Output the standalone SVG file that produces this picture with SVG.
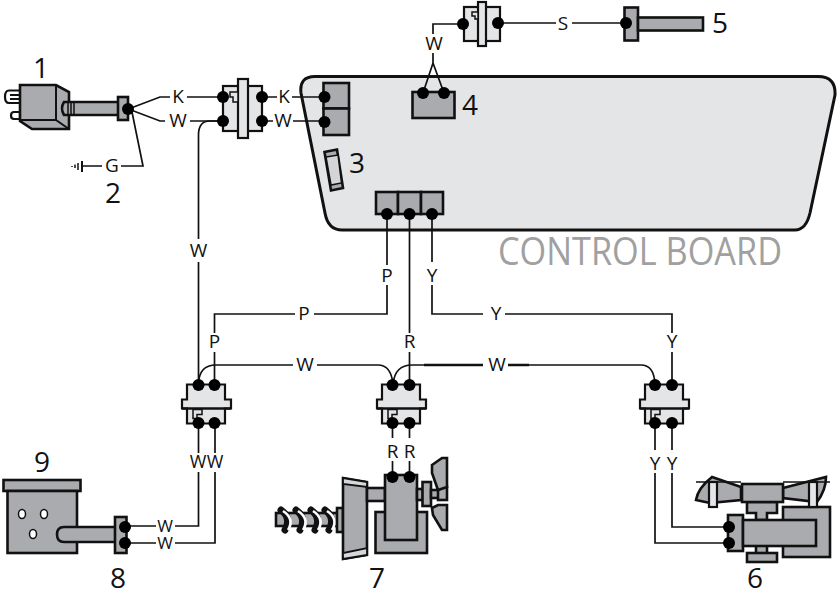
<svg xmlns="http://www.w3.org/2000/svg" width="839" height="591" viewBox="0 0 839 591">
<style>
text{font-family:"Open Sans","Noto Sans",sans-serif;fill:#111}
.n{font-size:28px;text-anchor:middle}
.l{font-size:19px;text-anchor:middle}
.w{fill:none;stroke:#111;stroke-width:1.7}
.g{fill:#a9abae;stroke:#111;stroke-width:2.6;stroke-linejoin:miter}
.p{fill:#e4e5e7;stroke:#111;stroke-width:2.2}
.k{fill:#e4e5e7;stroke:#111;stroke-width:1.5}
.d{fill:#000}
.t{fill:none;stroke:#111;stroke-width:7;stroke-linecap:round}
.t2{fill:none;stroke:#fff;stroke-width:2.6}
</style>
<defs>
<g id="relay">
<path class="p" d="M-19,-19H19V-4H25V5H19V20H-19V5H-24V-4H-19Z"/>
<path d="M-24,5H25" stroke="#111" stroke-width="2.4"/>
<path class="k" d="M-13,6h9v5h-5v4h-4z"/>
</g>
</defs>

<g id="board">
<path d="M315,76.500H818Q836,76.500 835,95L810,213Q806,230 795,230H342Q328,230 325,213L301,93Q299,76.500 315,76.500Z" fill="#e4e5e7" stroke="#111" stroke-width="3"/>
<text x="498" y="265" font-size="39" textLength="284" lengthAdjust="spacingAndGlyphs" style="fill:#a0a0a0">CONTROL BOARD</text>
</g>

<g id="connectors">
<path class="w" d="M131,108L160,97H170M187,97H225"/>
<path class="w" d="M131,110L160,121H165M190,121H225"/>
<path class="w" d="M132,112L143,166H121M102,166H82"/>
<path class="w" d="M260,97H277M292,97H326"/>
<path class="w" d="M260,121H273M293,121H326"/>
<path class="w" d="M223,121H210Q198.500,121 198.500,135V239M198.500,262V385"/>
<path class="w" d="M463,24H433V34M433,53V63L423,93M433,63L444,93"/>
<path class="w" d="M498,23H556M572,23H626"/>
<path class="w" d="M387,212V265M387,285V314H314M295,314H214.500V333M214.500,352V385"/>
<path class="w" d="M409.500,212V333M409.500,352V385"/>
<path class="w" d="M432,212V262M432,285V314H483M505,314H672V333M672,352V385"/>
<path class="w" d="M198.500,384Q199,365 216,365H293M317,365H378Q391,365 393,384"/>
<path class="w" d="M393,384Q395,365 412,365H424"/>
<path d="M424,365H483M508,365H529" stroke="#111" stroke-width="2.500" fill="none"/>
<path class="w" d="M529,365H641Q654,365 655,384"/>
<path class="w" d="M198.500,423V453M198.500,472V526H175M156,526H125"/>
<path class="w" d="M215,423V453M215,472V543H175M156,543H125"/>
<path class="w" d="M392.500,423V438M392.500,461V477M409.500,423V438M409.500,461V477"/>
<path class="w" d="M655,423V450M655,473V543H729M672,423V450M672,473V527H729"/>
</g>

<g id="node-1">
<path d="M20,90.500H9Q5,90.500 5,97Q5,103 9,103H20M20,95H10M10,99H20" fill="#fff" stroke="#111" stroke-width="2.200"/>
<path d="M20,112H14Q11,112 11,115.500Q11,119 14,119H20Z" fill="#fff" stroke="#111" stroke-width="2.200"/>
<path class="g" d="M20,85H56L69,92V129H32L20,121Z"/>
<path d="M56,85V120L69,129M20,120H56" fill="none" stroke="#111" stroke-width="2"/>
<path class="g" d="M64,102H119V115H64Q60,108.500 64,102Z"/>
<path d="M68,102V115M71,102V115M74,102V115" stroke="#111" stroke-width="1.500"/>
<text class="n" x="41" y="78">1</text>
</g>
<g id="node-2">
<rect class="g" x="118" y="97" width="10" height="23"/>
<circle class="d" cx="128" cy="109" r="6"/>
<path d="M82,161V172" stroke="#111" stroke-width="2"/>
<path d="M78,163V170M75,164.500V168M72,166V167" stroke="#111" stroke-width="1.500"/>
<text class="n" x="113" y="203">2</text>
</g>
<text class="l" x="112" y="172">G</text>
<text class="l" x="178" y="103">K</text>
<text class="l" x="178" y="127">W</text>
<text class="l" x="284" y="103">K</text>
<text class="l" x="283" y="127">W</text>
<g id="conn-top-left">
<rect class="p" x="223" y="86" width="39" height="45"/>
<rect class="p" x="238" y="79" width="10" height="59"/>
<path class="k" d="M230,92h8v10h-5v-5h-3z"/>
<circle class="d" cx="223" cy="97" r="6"/><circle class="d" cx="223" cy="121" r="6"/>
<circle class="d" cx="262" cy="97" r="6"/><circle class="d" cx="262" cy="121" r="6"/>
</g>
<g id="board-term-power">
<rect class="g" x="323.500" y="83" width="25.500" height="25.500"/>
<rect class="g" x="323.500" y="108.500" width="25.500" height="26.500"/>
<circle class="d" cx="324.500" cy="97" r="6"/><circle class="d" cx="324.500" cy="122" r="6"/>
</g>
<g id="node-3">
<path class="g" d="M324.500,152L337,149.500L343,188L331,190.500Z" stroke-width="2"/>
<path d="M326,157L338,155L341.500,183L331,185Z" fill="#d4d5d7" stroke="#111" stroke-width="1.500"/>
<text class="n" x="357" y="173">3</text>
</g>
<g id="node-4">
<rect class="g" x="412.500" y="92" width="42" height="26"/>
<circle class="d" cx="423" cy="93" r="6"/><circle class="d" cx="444" cy="93" r="6"/>
<text class="n" x="470" y="115">4</text>
</g>
<text class="l" x="434" y="50">W</text>
<g id="conn-top">
<rect class="p" x="464" y="7" width="36" height="34"/>
<rect class="p" x="478" y="2" width="8" height="44"/>
<path class="k" d="M472,12h6v7h-3v-3h-3z"/>
<circle class="d" cx="463" cy="24" r="6"/><circle class="d" cx="498" cy="23" r="6"/>
</g>
<text class="l" x="563" y="30">S</text>
<g id="node-5">
<rect class="g" x="624.500" y="7.500" width="13.500" height="33"/>
<rect class="g" x="638" y="17.500" width="65" height="13"/>
<circle class="d" cx="626" cy="23" r="6"/>
<text class="n" x="720" y="33">5</text>
</g>
<g id="board-term-relays">
<rect class="g" x="376" y="192" width="22" height="22"/>
<rect class="g" x="398" y="192" width="23" height="22"/>
<rect class="g" x="421" y="192" width="22" height="22"/>
<circle class="d" cx="387" cy="214" r="6"/><circle class="d" cx="409.500" cy="214" r="6"/><circle class="d" cx="432" cy="214" r="6"/>
</g>
<text class="l" x="198.500" y="257">W</text>
<text class="l" x="387" y="282">P</text>
<text class="l" x="432" y="282">Y</text>
<text class="l" x="304" y="320">P</text>
<text class="l" x="496" y="320">Y</text>
<text class="l" x="214.500" y="348">P</text>
<text class="l" x="409.500" y="348">R</text>
<text class="l" x="672" y="348">Y</text>
<text class="l" x="305" y="371">W</text>
<text class="l" x="497" y="371">W</text>
<g id="relay-a">
<use href="#relay" x="206" y="403.500"/>
<circle class="d" cx="198.500" cy="385" r="6"/><circle class="d" cx="214.500" cy="385" r="6"/>
<circle class="d" cx="198.500" cy="423" r="6"/><circle class="d" cx="214.500" cy="423" r="6"/>
</g>
<g id="relay-b">
<use href="#relay" x="401" y="403.500"/>
<circle class="d" cx="392.500" cy="385" r="6"/><circle class="d" cx="409.500" cy="385" r="6"/>
<circle class="d" cx="392.500" cy="423" r="6"/><circle class="d" cx="409.500" cy="423" r="6"/>
</g>
<g id="relay-c">
<use href="#relay" x="664" y="403.500"/>
<circle class="d" cx="655" cy="385" r="6"/><circle class="d" cx="672" cy="385" r="6"/>
<circle class="d" cx="655" cy="423" r="6"/><circle class="d" cx="672" cy="423" r="6"/>
</g>
<text class="l" x="198" y="468" style="font-size:18px">W</text>
<text class="l" x="215" y="468" style="font-size:18px">W</text>
<text class="l" x="392.500" y="458">R</text>
<text class="l" x="409.500" y="458">R</text>
<text class="l" x="655" y="470">Y</text>
<text class="l" x="672" y="470">Y</text>
<text class="l" x="165" y="532" style="font-size:17px">W</text>
<text class="l" x="165" y="549" style="font-size:17px">W</text>
<g id="node-9">
<rect class="g" x="3.500" y="480" width="77" height="11"/>
<rect class="g" x="7.500" y="491" width="69.500" height="62"/>
<ellipse cx="22" cy="514" rx="3.500" ry="4.500" fill="#fff" stroke="#111" stroke-width="1.500"/>
<ellipse cx="44" cy="514" rx="3.500" ry="4.500" fill="#fff" stroke="#111" stroke-width="1.500"/>
<ellipse cx="33" cy="534" rx="3.500" ry="4.500" fill="#fff" stroke="#111" stroke-width="1.500"/>
<path class="g" d="M116,527H64Q57,527 57,534.500Q57,542 64,542H116Z"/>
<text class="n" x="42" y="472">9</text>
</g>
<g id="node-8">
<rect class="g" x="115" y="517" width="11.500" height="36"/>
<circle class="d" cx="125" cy="527" r="6"/><circle class="d" cx="125" cy="543" r="6"/>
<text class="n" x="118" y="588">8</text>
</g>
<g id="node-7">
<rect class="g" x="276" y="513" width="66" height="13"/>
<path class="t" d="M281,510Q292,518 285,530M296,510Q307,518 300,530M311,510Q322,518 315,530M325,510Q336,518 329,530"/>
<path class="t2" d="M283,511Q295,519 288,530M298,511Q310,519 303,530M313,511Q325,519 318,530M327,511Q339,519 332,530"/>
<rect class="g" x="337" y="508" width="6" height="24"/>
<path class="g" d="M343,478L367,482V555L343,559Z"/>
<path d="M343,478L367,482V487L343,484ZM343,559L367,555V548L343,553Z" fill="#d6d7d9" stroke="#111" stroke-width="1.800"/>
<rect class="g" x="367" y="488" width="18" height="13"/>
<rect class="g" x="375.500" y="512" width="51.500" height="41"/>
<rect class="g" x="385" y="475" width="32" height="65"/>
<rect class="g" x="417" y="489" width="6" height="11"/>
<rect class="g" x="422.500" y="482" width="8.500" height="24"/>
<rect class="g" x="431" y="490" width="8" height="8"/>
<rect class="g" x="438" y="487" width="9" height="13"/>
<path class="g" d="M432,465L442,458H447V487L438,490L432,473Z"/>
<path class="g" d="M432,508L438,505H447V530H442L433,515Z"/>
<circle class="d" cx="392.500" cy="477" r="6"/><circle class="d" cx="409.500" cy="477" r="6"/>
<text class="n" x="377" y="588">7</text>
</g>
<g id="node-6">
<rect class="g" x="783" y="507" width="47" height="50"/>
<path class="g" d="M741,487L712,477Q698,488 696,500L710,503L741,500Z"/>
<path class="g" d="M783,488L826,477Q826,490 817,502L783,498Z"/>
<path d="M696,482H741M783,482H830" stroke="#111" stroke-width="1.600"/>
<rect class="p" x="709" y="482" width="8" height="25"/>
<rect class="p" x="809" y="482" width="8" height="25"/>
<path class="g" d="M747,502H777V513H767V520H756V513H747Z"/>
<rect class="g" x="742" y="484" width="41" height="18"/>
<rect class="g" x="756" y="544" width="11" height="10"/>
<rect class="g" x="747" y="553" width="30" height="9"/>
<rect class="g" x="728" y="515" width="15" height="36"/>
<rect class="g" x="743" y="520" width="73" height="26"/>
<circle class="d" cx="729" cy="527" r="6"/><circle class="d" cx="729" cy="543" r="6"/>
<text class="n" x="755" y="588">6</text>
</g>
</svg>
